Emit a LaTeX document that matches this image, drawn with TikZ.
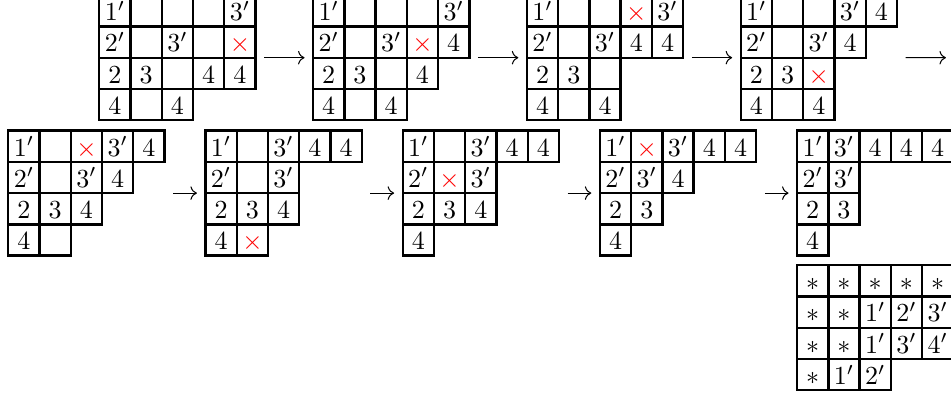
\documentclass[tikz,border=0pt]{standalone}
\usepackage{xcolor}
\usepackage{tikz}
\usetikzlibrary{arrows.meta}

\newcommand{\X}{\textcolor{red}{\times}}
% young tableau: name, left, top, rows
\newcommand{\youngtab}[4]{%
  \foreach \row [count=\ri] in {#4} {
    \foreach \entry [count=\ci] in \row {
      \node[cell] (#1-\ri-\ci) at ({#2+(\ci-0.5)*31.25},{#3+(\ri-0.5)*31.25}) {$\entry$};
    }
  }%
}

\begin{document}
\begin{tikzpicture}[x=0.384pt, y=-0.384pt,
    cell/.style={draw, line width=0.9pt, minimum size=12pt, inner sep=0pt, outer sep=0pt,
                 text height=7.6pt, text depth=0pt},
    arr/.style={-{Computer Modern Rightarrow}, line width=0.4pt,
                shorten <=3.3pt, shorten >=3.3pt}
  ]
  \useasboundingbox (0,0) rectangle (951,395);
  \clip (0,0) rectangle (951,395);
  % first row
  \youngtab{t1}{99.3}{-4.8}{{1',,,,3'},{2',,3',,\X},{2,3,,4,4},{4,,4}}
  \youngtab{t2}{313.1}{-4.8}{{1',,,,3'},{2',,3',\X,4},{2,3,,4},{4,,4}}
  \youngtab{t3}{526.9}{-4.8}{{1',,,\X,3'},{2',,3',4,4},{2,3,{}},{4,,4}}
  \youngtab{t4}{740.7}{-4.8}{{1',,,3',4},{2',,3',4},{2,3,\X},{4,,4}}
  \coordinate (t4out) at (954.5,57.7);
  \draw[arr] (t1-1-5.east |- t1-2-1.south) -- (t2-1-1.west |- t2-2-1.south);
  \draw[arr] (t2-1-5.east |- t2-2-1.south) -- (t3-1-1.west |- t3-2-1.south);
  \draw[arr] (t3-1-5.east |- t3-2-1.south) -- (t4-1-1.west |- t4-2-1.south);
  \draw[arr] (t4-1-5.east |- t4-2-1.south) -- (t4out);
  % second row
  \youngtab{t5}{8.3}{130.6}{{1',,\X,3',4},{2',,3',4},{2,3,4},{4,{}}}
  \youngtab{t6}{205.5}{130.6}{{1',,3',4,4},{2',,3'},{2,3,4},{4,\X}}
  \youngtab{t7}{402.7}{130.6}{{1',,3',4,4},{2',\X,3'},{2,3,4},{4}}
  \youngtab{t8}{599.9}{130.6}{{1',\X,3',4,4},{2',3',4},{2,3},{4}}
  \youngtab{t9}{797.1}{130.6}{{1',3',4,4,4},{2',3'},{2,3},{4}}
  \draw[arr] (t5-1-5.east |- t5-2-1.south) -- (t6-1-1.west |- t6-2-1.south);
  \draw[arr] (t6-1-5.east |- t6-2-1.south) -- (t7-1-1.west |- t7-2-1.south);
  \draw[arr] (t7-1-5.east |- t7-2-1.south) -- (t8-1-1.west |- t8-2-1.south);
  \draw[arr] (t8-1-5.east |- t8-2-1.south) -- (t9-1-1.west |- t9-2-1.south);
  % result
  \youngtab{t10}{797.1}{265.2}{{*,*,*,*,*},{*,*,1',2',3'},{*,*,1',3',4'},{*,1',2'}}
\end{tikzpicture}
\end{document}
